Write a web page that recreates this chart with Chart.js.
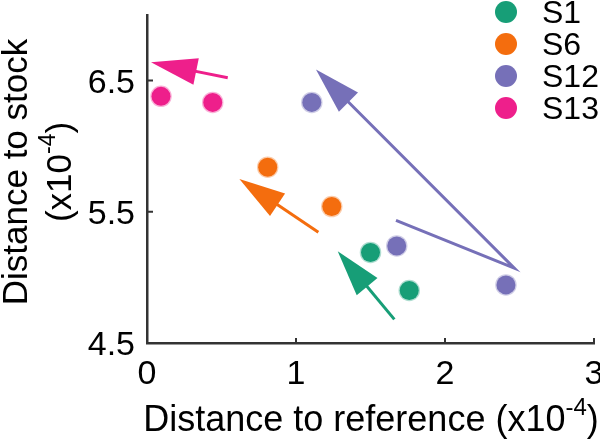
<!DOCTYPE html>
<html>
<head>
<meta charset="utf-8">
<script src="https://cdn.jsdelivr.net/npm/chart.js@4.4.0/dist/chart.umd.min.js"></script>
<style>
  body { margin: 0; background: #fff; }
  #wrap { width: 600px; height: 445px; }
</style>
</head>
<body>
<div id="wrap"><canvas id="myChart" width="600" height="445"></canvas></div>
<script>
// setup block
const seriesNames = ['S1', 'S6', 'S12', 'S13'];
const seriesColors = ['#179e77', '#f46d0e', '#7670b8', '#ee1f8b'];

const xTicks = [0, 1, 2, 3];
const yTicks = [4.5, 5.5, 6.5];

// points (x10^-4)
const s1X = [1.50, 1.76];
const s1Y = [5.19, 4.90];
const s6X = [0.81, 1.24];
const s6Y = [5.84, 5.54];
const s12X = [1.106, 1.676, 2.409];
const s12Y = [6.334, 5.24, 4.943];
const s13X = [0.094, 0.441];
const s13Y = [6.38, 6.334];

// arrows, tail first, tip last
const s1ArrowX = [1.66, 1.28];
const s1ArrowY = [4.68, 5.20];
const s6ArrowX = [1.15, 0.62];
const s6ArrowY = [5.345, 5.75];
const s12ArrowX = [1.671, 2.465, 1.134];
const s12ArrowY = [5.434, 5.07, 6.584];
const s13ArrowX = [0.542, 0.027];
const s13ArrowY = [6.521, 6.64];

const pointsX = [s1X, s6X, s12X, s13X];
const pointsY = [s1Y, s6Y, s12Y, s13Y];
const arrowsX = [s1ArrowX, s6ArrowX, s12ArrowX, s13ArrowX];
const arrowsY = [s1ArrowY, s6ArrowY, s12ArrowY, s13ArrowY];

const FONT = '"Liberation Sans", Arial, sans-serif';

function toPoints(xs, ys) {
    return xs.map((x, i) => ({ x: x, y: ys[i] }));
}

function softer(hex) {
    const r = parseInt(hex.slice(1, 3), 16), g = parseInt(hex.slice(3, 5), 16), b = parseInt(hex.slice(5, 7), 16);
    return 'rgba(' + r + ',' + g + ',' + b + ',0.35)';
}

const data = {
    datasets: seriesNames.map((name, i) => ({
        label: name,
        data: toPoints(pointsX[i], pointsY[i]),
        backgroundColor: seriesColors[i],
        borderColor: softer(seriesColors[i]),
        borderWidth: 2.5,
        pointRadius: 9.5,
        pointHoverRadius: 9.5
    }))
};

// text with a superscript piece
function drawParts(ctx, parts, cx, baseY) {
    let total = 0;
    parts.forEach(p => { ctx.font = p.size + 'px ' + FONT; p.w = ctx.measureText(p.t).width; total += p.w; });
    let x = cx - total / 2;
    ctx.textAlign = 'left';
    ctx.textBaseline = 'alphabetic';
    parts.forEach(p => {
        ctx.font = p.size + 'px ' + FONT;
        ctx.fillText(p.t, x, baseY - p.rise);
        x += p.w;
    });
}

const extras = {
    id: 'extras',
    afterDatasetsDraw(chart) {
        const ctx = chart.ctx;
        const xs = chart.scales.x, ys = chart.scales.y;
        // arrows
        arrowsX.forEach((ax, i) => {
            const ay = arrowsY[i];
            const px = ax.map(v => xs.getPixelForValue(v));
            const py = ay.map(v => ys.getPixelForValue(v));
            const n = px.length;
            const dx = px[n - 1] - px[n - 2], dy = py[n - 1] - py[n - 2];
            const len = Math.hypot(dx, dy);
            const ux = dx / len, uy = dy / len;
            const headLen = 46, headHalf = 13.5;
            const bx = px[n - 1] - ux * headLen, by = py[n - 1] - uy * headLen;
            ctx.save();
            ctx.strokeStyle = seriesColors[i];
            ctx.fillStyle = seriesColors[i];
            ctx.lineWidth = 3;
            ctx.lineJoin = 'miter';
            ctx.beginPath();
            ctx.moveTo(px[0], py[0]);
            for (let k = 1; k < n - 1; k++) ctx.lineTo(px[k], py[k]);
            ctx.lineTo(bx + ux * 4, by + uy * 4);
            ctx.stroke();
            ctx.beginPath();
            ctx.moveTo(px[n - 1], py[n - 1]);
            ctx.lineTo(bx - uy * headHalf, by + ux * headHalf);
            ctx.lineTo(bx + uy * headHalf, by - ux * headHalf);
            ctx.closePath();
            ctx.fill();
            ctx.restore();
        });
    },
    afterDraw(chart) {
        const ctx = chart.ctx;
        const xs = chart.scales.x, ys = chart.scales.y;
        const area = chart.chartArea;
        ctx.save();
        // small inward ticks
        ctx.strokeStyle = '#333';
        ctx.lineWidth = 2;
        ctx.beginPath();
        xTicks.slice(1).forEach(v => {
            const p = xs.getPixelForValue(v);
            ctx.moveTo(p, area.bottom);
            ctx.lineTo(p, area.bottom - 5);
        });
        yTicks.slice(1).forEach(v => {
            const p = ys.getPixelForValue(v);
            ctx.moveTo(area.left, p);
            ctx.lineTo(area.left + 6, p);
        });
        ctx.stroke();

        // legend
        chart.data.datasets.forEach((ds, i) => {
            const cy = 12 + 32 * i;
            ctx.fillStyle = ds.backgroundColor;
            ctx.beginPath();
            ctx.arc(506, cy, 11, 0, Math.PI * 2);
            ctx.fill();
            ctx.fillStyle = '#000';
            ctx.font = '32px ' + FONT;
            ctx.textAlign = 'left';
            ctx.textBaseline = 'middle';
            ctx.fillText(ds.label, 542, cy + 2);
        });

        // axis titles
        ctx.fillStyle = '#000';
        drawParts(ctx, [
            { t: 'Distance to reference (x10', size: 36, rise: 0 },
            { t: '-4', size: 24, rise: 16 },
            { t: ')', size: 36, rise: 0 }
        ], 371, 431);

        ctx.translate(0, 172);
        ctx.rotate(-Math.PI / 2);
        drawParts(ctx, [{ t: 'Distance to stock', size: 35, rise: 0 }], 0, 27);
        drawParts(ctx, [
            { t: '(x10', size: 35, rise: 0 },
            { t: '-4', size: 23, rise: 16 },
            { t: ')', size: 35, rise: 0 }
        ], 0, 71);
        ctx.restore();
    }
};

//config block
const config = {
    type: 'scatter',
    data: data,
    plugins: [extras],
    options: {
        responsive: false,
        animation: false,
        events: [],
        layout: { autoPadding: false, padding: { left: 0, top: 15, right: 6, bottom: 0 } },
        plugins: {
            legend: { display: false },
            tooltip: { enabled: false }
        },
        scales: {
            x: {
                min: 0,
                max: 3,
                afterBuildTicks: s => { s.ticks = xTicks.map(v => ({ value: v })); },
                afterFit: s => { s.height = 102; s.paddingLeft = 0; s.paddingRight = 0; },
                grid: { display: false, drawTicks: false },
                border: { display: true, color: '#333', width: 2.5 },
                ticks: {
                    color: '#000',
                    padding: 11,
                    maxRotation: 0,
                    font: { family: FONT, size: 34 }
                }
            },
            y: {
                min: 4.5,
                max: 7.0,
                afterBuildTicks: s => { s.ticks = yTicks.map(v => ({ value: v })); },
                afterFit: s => { s.width = 147; s.paddingTop = 0; s.paddingBottom = 0; },
                grid: { display: false, drawTicks: false },
                border: { display: true, color: '#333', width: 2.5 },
                ticks: {
                    color: '#000',
                    padding: 12,
                    labelOffset: 3,
                    font: { family: FONT, size: 34 },
                    callback: v => v.toFixed(1)
                }
            }
        }
    }
};

//render block
const myChart = new Chart(
    document.getElementById('myChart'),
    config
);
</script>
</body>
</html>
